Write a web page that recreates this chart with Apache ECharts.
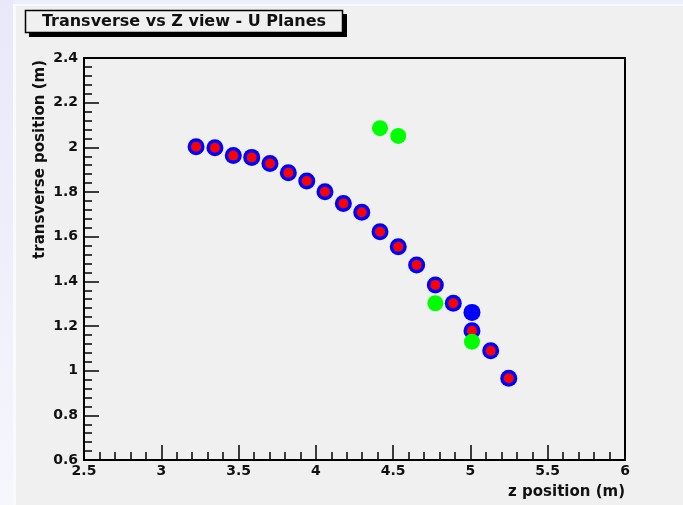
<!DOCTYPE html>
<html>
<head>
<meta charset="utf-8">
<script src="https://cdn.jsdelivr.net/npm/echarts@6/dist/echarts.min.js"></script>
<style>
html,body{margin:0;padding:0;background:#f0f0f0;}
#chart{width:683px;height:505px;}
</style>
</head>
<body>
<div id="chart"></div>
<script>
// ---- data ----
var blueZ = [3.225, 3.347, 3.466, 3.585, 3.703, 3.822, 3.941, 4.059, 4.178, 4.297, 4.415, 4.533, 4.652, 4.773, 4.889, 5.010, 5.010, 5.131, 5.248];
var blueT = [2.003, 1.998, 1.963, 1.955, 1.928, 1.886, 1.849, 1.801, 1.749, 1.709, 1.622, 1.555, 1.473, 1.384, 1.302, 1.261, 1.179, 1.089, 0.966];
var redZ  = [3.225, 3.347, 3.466, 3.585, 3.703, 3.822, 3.941, 4.059, 4.178, 4.297, 4.415, 4.533, 4.652, 4.773, 4.889, 5.010, 5.131, 5.248];
var redT  = [2.003, 1.998, 1.963, 1.955, 1.928, 1.886, 1.849, 1.801, 1.749, 1.709, 1.622, 1.555, 1.473, 1.384, 1.302, 1.179, 1.089, 0.966];
var greenZ = [4.415, 4.533, 4.773, 5.010];
var greenT = [2.086, 2.051, 1.302, 1.130];

var titleText = 'Transverse vs Z view - U Planes';
var xTitle = 'z position (m)';
var yTitle = 'transverse position (m)';
var xRange = [2.5, 6];
var yRange = [0.6, 2.4];

function pairs(a, b) { return a.map(function (v, i) { return [v, b[i]]; }); }

var FONT = 'DejaVu Sans';
var chart = echarts.init(document.getElementById('chart'), null, {renderer: 'canvas'});

var axisCommon = {
  type: 'value',
  axisLine: {show: true, onZero: false, lineStyle: {color: '#000', width: 2}},
  axisTick: {show: true, inside: true, length: 15, lineStyle: {color: '#000', width: 1.5}},
  minorTick: {show: true, splitNumber: 5, length: 8, lineStyle: {color: '#000', width: 1.5}},
  splitLine: {show: false},
  minorSplitLine: {show: false},
  axisLabel: {color: '#111', fontFamily: FONT, fontWeight: 'bold', fontSize: 14}
};

chart.setOption({
  backgroundColor: '#f0f0f0',
  animation: false,
  graphic: [
    {type: 'rect', z: -10, shape: {x: 0, y: 0, width: 683, height: 4},
     style: {fill: '#ececfa'}},
    {type: 'rect', z: -10, shape: {x: 0, y: 4, width: 683, height: 2},
     style: {fill: '#f9f9fd'}},
    {type: 'rect', z: -10, shape: {x: 0, y: 0, width: 13, height: 505},
     style: {fill: new echarts.graphic.LinearGradient(0, 0, 0, 1, [
       {offset: 0, color: '#e8e8f9'}, {offset: 1, color: '#f6f6fd'}])}},
    {type: 'rect', z: -10, shape: {x: 13, y: 4, width: 3, height: 501},
     style: {fill: '#fafafe'}},
    // title box with shadow
    {type: 'rect', z: 10, shape: {x: 29, y: 14, width: 318, height: 23},
     style: {fill: '#000'}},
    {type: 'rect', z: 11, shape: {x: 25.5, y: 10.5, width: 317, height: 22},
     style: {fill: '#f0f0f0', stroke: '#000', lineWidth: 1.5}},
    {type: 'text', z: 12, x: 184, y: 22,
     style: {text: titleText, font: 'bold 16px "DejaVu Sans"', fill: '#111',
             textAlign: 'center', textVerticalAlign: 'middle'}},
    // axis titles
    {type: 'text', z: 12, x: 625, y: 492,
     style: {text: xTitle, font: 'bold 15px "DejaVu Sans"', fill: '#111',
             textAlign: 'right', textVerticalAlign: 'middle'}},
    {type: 'text', z: 12, x: 40, y: 60, rotation: Math.PI / 2,
     style: {text: yTitle, font: 'bold 15px "DejaVu Sans"', fill: '#111',
             textAlign: 'right', textVerticalAlign: 'middle'}}
  ],
  grid: {
    left: 84, top: 58, width: 541, height: 402,
    show: true, borderColor: '#000', borderWidth: 2, backgroundColor: 'transparent',
    containLabel: false
  },
  xAxis: Object.assign({}, axisCommon, {
    min: xRange[0], max: xRange[1], interval: 0.5,
    axisLabel: Object.assign({}, axisCommon.axisLabel, {margin: 4})
  }),
  yAxis: Object.assign({}, axisCommon, {
    min: yRange[0], max: yRange[1], interval: 0.2,
    axisLabel: Object.assign({}, axisCommon.axisLabel, {margin: 6})
  }),
  series: [
    {type: 'scatter', name: 'blue', data: pairs(blueZ, blueT), symbol: 'circle', symbolSize: 17,
     itemStyle: {color: '#0000ff', opacity: 1}, z: 2},
    {type: 'scatter', name: 'red', data: pairs(redZ, redT), symbol: 'circle', symbolSize: 10,
     itemStyle: {color: '#ff0000', opacity: 1}, z: 3},
    {type: 'scatter', name: 'green', data: pairs(greenZ, greenT), symbol: 'circle', symbolSize: 16,
     itemStyle: {color: '#00ff00', opacity: 1}, z: 4}
  ]
});
</script>
</body>
</html>
